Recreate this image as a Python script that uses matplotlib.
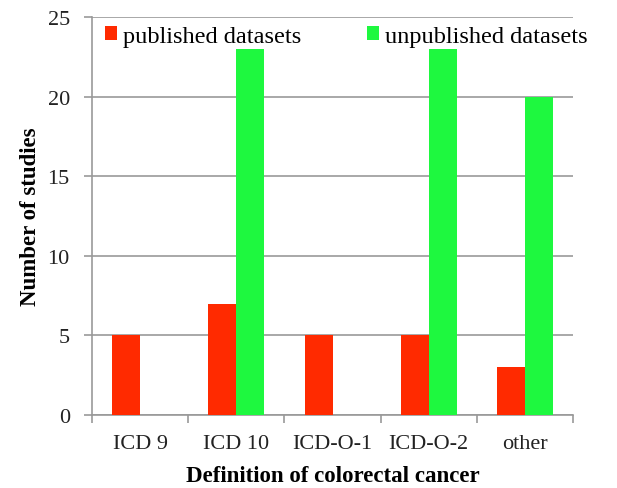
import matplotlib
matplotlib.use("Agg")
import matplotlib.pyplot as plt
import numpy as np

categories = ["ICD 9", "ICD 10", "ICD-O-1", "ICD-O-2", "other"]
published = [5, 7, 5, 5, 3]
unpublished = [0, 23, 0, 23, 20]

plt.rcParams['font.family'] = ['Liberation Serif', 'DejaVu Serif']

fig = plt.figure(figsize=(6.17, 4.89), dpi=100)
ax = fig.add_axes([92 / 617, 1 - 416 / 489, (573 - 92) / 617, (416 - 18) / 489])

x = np.arange(len(categories))
w = 0.29
ax.bar(x - w / 2, published, w, color='#ff2a00', label='published datasets', zorder=3)
ax.bar(x + w / 2, unpublished, w, color='#1ef83f', label='unpublished datasets', zorder=3)

ax.set_xlim(-0.5, len(categories) - 0.5)
ax.set_ylim(0, 25)
ax.set_yticks(range(0, 26, 5))
ax.set_xticks(np.arange(-0.5, len(categories), 1.0))
ax.set_xticklabels([])
ax.set_xticks(x, minor=True)
ax.set_xticklabels(categories, minor=True)
ax.tick_params(axis='x', which='minor', length=0, pad=14, labelsize=16, colors='#222222')
ax.tick_params(axis='x', which='major', length=6, color='#999999', width=1.2)
ax.tick_params(axis='y', length=6, color='#999999', width=1.2, labelsize=16, pad=10, labelcolor='#222222')

ax.grid(axis='y', color='#999999', linewidth=1.2, zorder=0)
for s in ['top', 'right']:
    ax.spines[s].set_visible(False)
for s in ['left', 'bottom']:
    ax.spines[s].set_color('#999999')
    ax.spines[s].set_linewidth(1.2)

ax.set_ylabel('Number of studies', fontsize=16.5, fontweight='bold', labelpad=5)
ax.set_xlabel('Definition of colorectal cancer', fontsize=16.5, fontweight='bold', labelpad=8)

ax.legend(loc='center left', bbox_to_anchor=(0.027, 0.952), ncol=2, frameon=False,
          fontsize=17.5, handlelength=0.5, handleheight=0.5, handletextpad=0.25,
          columnspacing=2.7, borderaxespad=0, borderpad=0)

fig.savefig('out.png', dpi=100)
